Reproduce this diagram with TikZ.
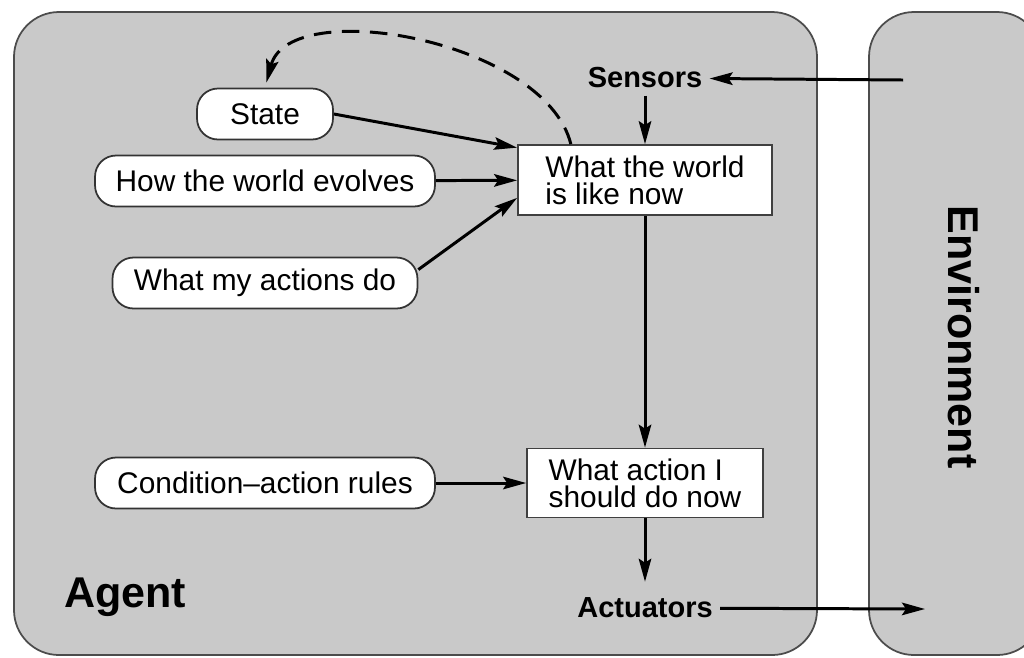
\documentclass[tikz,border=0pt]{standalone}
\usepackage{tikz}
\usepackage{xcolor}
\usepackage{fontspec}
\setmainfont{Liberation Sans}
\usetikzlibrary{arrows.meta,calc}
\definecolor{panelgray}{RGB}{201,201,201}

\begin{document}
\begin{tikzpicture}[x=0.02cm,y=-0.02cm,
  panel/.style={fill=panelgray,draw=black!70,line width=1pt,rounded corners=0.9cm},
  oval/.style={draw=black!80,fill=white,line width=1pt,rounded corners=0.42cm,
    minimum height=1.02cm,inner sep=0pt,font=\fontsize{17}{15.5}\selectfont},
  boxed/.style={draw=black!75,fill=white,line width=1pt,align=left,inner sep=0pt,
    font=\fontsize{17}{15.5}\selectfont},
  port/.style={font=\bfseries\fontsize{16.5}{18}\selectfont,inner sep=4pt},
  big/.style={font=\bfseries\fontsize{24.5}{26}\selectfont},
  flow/.style={line width=1.7pt,-{Stealth[length=0.46cm,width=0.25cm,inset=0.08cm]}}]
\useasboundingbox (0,0) rectangle (1024,657);
\clip (0,0) rectangle (1024,657);
\draw[panel] (14,12) rectangle (817,655);
\draw[panel] (869,12) rectangle (1042,655);
\node[big,anchor=base] (agent) at (125,607) {Agent};
\node[big,rotate=-90,anchor=base] (env) at (948,337) {Environment};
\node[port] (sensors) at (645,78) {Sensors};
\node[port] (actuators) at (645,608) {Actuators};
\coordinate (percept) at (903,80);
\coordinate (effect) at (925,609);
\node[oval,minimum width=2.72cm] (state) at (265,114) {State};
\node[oval,minimum width=6.8cm] (how) at (265,181) {How the world evolves};
\node[oval,minimum width=6.1cm] (actions) at (265,283) {What my actions do};
\node[oval,minimum width=6.8cm] (rules) at (265,483) {Condition\textendash action rules};
\node[boxed,minimum width=5.08cm,minimum height=1.4cm] (world) at (645,180) {What the world\\is like now};
\node[boxed,minimum width=4.72cm,minimum height=1.38cm] (action) at (645,483) {What action I\\should do now};
\draw[flow] (percept) -- (sensors);
\draw[flow] (sensors) -- (world);
\draw[flow] (state.east) -- ([yshift=-2pt]world.north west);
\draw[flow] (how) -- (world);
\draw[flow] (actions.5) -- ($(world.south west)+(0,-18)$);
\draw[flow] (world) -- (action);
\draw[flow] (rules) -- (action);
\draw[flow,shorten >=5pt] (action) -- (actuators);
\draw[flow] (actuators) -- (effect);
\draw[flow,dash pattern=on 10pt off 6pt,shorten >=3pt]
  ($(world.north west)!0.21!(world.north east)$) .. controls (545,40) and (290,-5) .. (state.north);
\end{tikzpicture}
\end{document}
